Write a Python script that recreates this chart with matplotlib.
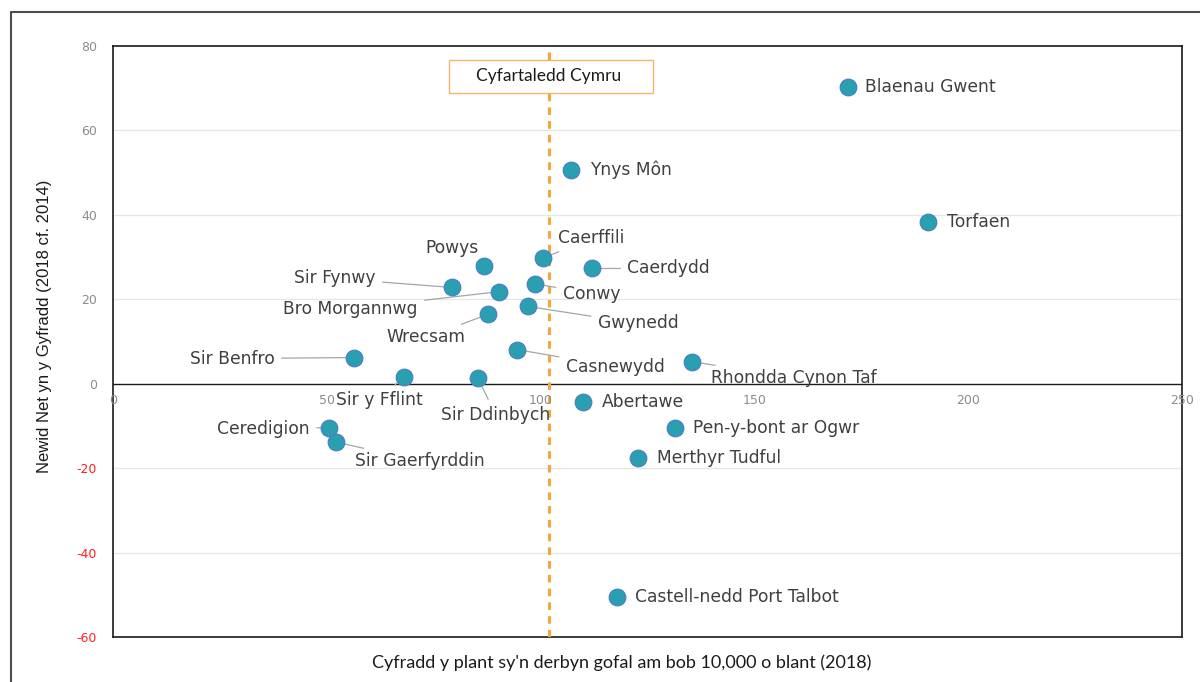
import matplotlib
matplotlib.use("Agg")
import matplotlib.pyplot as plt
from matplotlib.lines import Line2D
from matplotlib.patches import Rectangle

plt.rcParams['font.family'] = ['DejaVu Sans']

# data: rate per 10,000 children (2018) vs net change (2018 cf. 2014)
names = ["Blaenau Gwent", "Ynys Môn", "Torfaen", "Caerffili", "Caerdydd", "Powys",
         "Conwy", "Sir Fynwy", "Bro Morgannwg", "Gwynedd", "Wrecsam", "Casnewydd",
         "Rhondda Cynon Taf", "Sir Benfro", "Sir y Fflint", "Sir Ddinbych", "Abertawe",
         "Ceredigion", "Pen-y-bont ar Ogwr", "Sir Gaerfyrddin", "Merthyr Tudful",
         "Castell-nedd Port Talbot"]
rate = [172.0, 107.2, 190.7, 100.5, 112.1, 86.7, 98.6, 79.2, 90.2, 97.0, 87.6, 94.4,
        135.5, 56.3, 68.0, 85.3, 109.8, 50.5, 131.5, 52.1, 122.7, 117.8]
change = [70.3, 50.6, 38.2, 29.7, 27.3, 27.8, 23.7, 22.8, 21.8, 18.3, 16.4, 8.1,
          5.2, 6.2, 1.7, 1.4, -4.3, -10.4, -10.4, -13.8, -17.6, -50.6]
wales_avg = 101.9
yticks = [-60, -40, -20, 0, 20, 40, 60, 80]
xticks = [0, 50, 100, 150, 200, 250]

# label offsets in pixels (dx, dy, ha, leader)
offsets = {
    "Blaenau Gwent": (17, 0, 'left', False),
    "Ynys Môn": (19, 0, 'left', False),
    "Torfaen": (19, 0, 'left', False),
    "Caerffili": (15, 20, 'left', True),
    "Caerdydd": (35, 0, 'left', True),
    "Powys": (-5, 18, 'right', True),
    "Conwy": (28, -10, 'left', True),
    "Sir Fynwy": (-76, 9, 'right', True),
    "Bro Morgannwg": (-81, -17, 'right', True),
    "Gwynedd": (70, -17, 'left', True),
    "Wrecsam": (-22, -23, 'right', True),
    "Casnewydd": (49, -17, 'left', True),
    "Rhondda Cynon Taf": (19, -16, 'left', True),
    "Sir Benfro": (-79, -1, 'right', True),
    "Sir y Fflint": (-24, -23, 'center', True),
    "Sir Ddinbych": (18, -37, 'center', True),
    "Abertawe": (19, 0, 'left', False),
    "Ceredigion": (-19, -1, 'right', True),
    "Pen-y-bont ar Ogwr": (18, 0, 'left', False),
    "Sir Gaerfyrddin": (19, -19, 'left', True),
    "Merthyr Tudful": (19, 0, 'left', False),
    "Castell-nedd Port Talbot": (18, 0, 'left', False),
}

fig = plt.figure(figsize=(12, 6.82), dpi=100)
ax = fig.add_axes([113 / 1200, 1 - 637 / 682, (1182 - 113) / 1200, (637 - 46) / 682])

ax.set_xlim(0, 250)
ax.set_ylim(-60, 80)

ax.scatter(rate, change, s=145, color='#2A9FB0', edgecolor='#4A7CCB', linewidth=0.8, zorder=5)

for n, x, y in zip(names, rate, change):
    dx, dy, ha, lead = offsets[n]
    props = None
    if lead:
        props = dict(arrowstyle='-', color='#A6A6A6', lw=0.9, shrinkA=3, shrinkB=0)
    ax.annotate(n, (x, y), xytext=(dx, dy), textcoords='offset pixels',
                ha=ha, va='center', fontsize=12.3, color='#404040',
                arrowprops=props, zorder=4)

# Welsh average line and label box
ax.axvline(wales_avg, color='#F4A73B', lw=2.2, ls=(0, (2.5, 2)), zorder=3)
ax.add_patch(Rectangle((78.5, 68.8), 47.7, 7.9, fc='white', ec='#F4B46A', lw=1.0, zorder=6))
ax.text(wales_avg, 72.8, "Cyfartaledd Cymru", ha='center', va='center', fontsize=12.5,
        family=['Lato', 'DejaVu Sans'], color='#1a1a1a', zorder=7)

# grid and zero line
for t in yticks:
    if t not in (0, -60, 80):
        ax.axhline(t, color='#E6E6E6', lw=0.9, zorder=0)
ax.axhline(0, color='#1a1a1a', lw=1.0, zorder=2)

for s in ax.spines.values():
    s.set_color('#1a1a1a')
    s.set_linewidth(1.2)

ax.set_yticks(yticks)
ax.set_yticklabels([str(t) for t in yticks])
ax.tick_params(axis='y', length=0, pad=11.5, labelsize=9, labelcolor='#8C8C8C')
for lab, t in zip(ax.get_yticklabels(), yticks):
    if t < 0:
        lab.set_color('#FF2020')

ax.set_xticks([])
for t in xticks:
    ax.text(t, -4.0, str(t), ha='center', va='center', fontsize=9, color='#8C8C8C')

fig.text(45 / 1200, 1 - 326 / 682, "Newid Net yn y Gyfradd (2018 cf. 2014)", rotation=90,
         ha='center', va='center', fontsize=12, family=['Liberation Sans', 'DejaVu Sans'],
         color='#1a1a1a')
fig.text(622 / 1200, 1 - 663 / 682, "Cyfradd y plant sy'n derbyn gofal am bob 10,000 o blant (2018)",
         ha='center', va='center', fontsize=13, family=['Lato', 'DejaVu Sans'], color='#1a1a1a')

# outer frame
fig.add_artist(Line2D([11 / 1200, 11 / 1200, 1.0], [0, 1 - 12 / 682, 1 - 12 / 682],
                      transform=fig.transFigure, color='#4D4D4D', lw=1.5))

fig.savefig("out.png", dpi=100)
